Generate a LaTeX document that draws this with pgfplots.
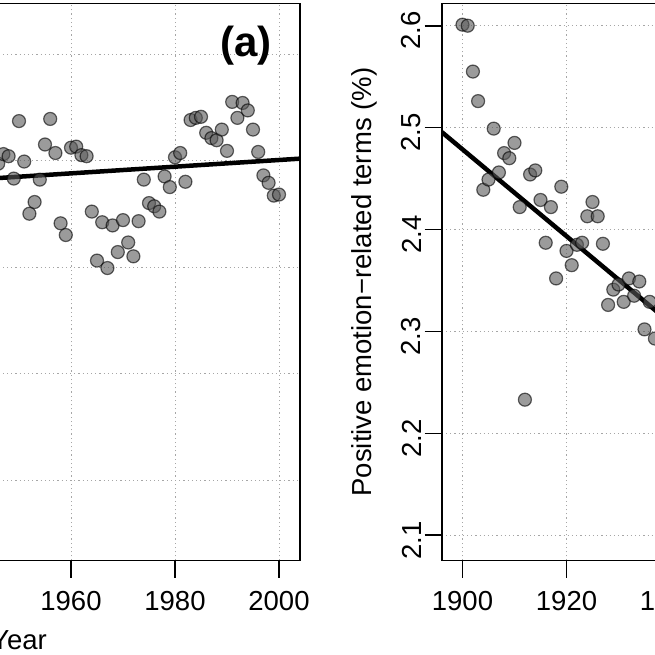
\documentclass[border=0pt]{standalone}
\usepackage{pgfplots}
\pgfplotsset{compat=1.18}
\usepackage{fontspec}
\setmainfont{Liberation Sans}

\pgfplotstableread{
year val
1946 2.497
1947 2.506
1948 2.504
1949 2.483
1950 2.537
1951 2.499
1952 2.450
1953 2.461
1954 2.482
1955 2.515
1956 2.539
1957 2.507
1958 2.441
1959 2.430
1960 2.512
1961 2.513
1962 2.505
1963 2.504
1964 2.452
1965 2.406
1966 2.442
1967 2.399
1968 2.439
1969 2.414
1970 2.444
1971 2.423
1972 2.410
1973 2.443
1974 2.482
1975 2.460
1976 2.457
1977 2.452
1978 2.485
1979 2.475
1980 2.503
1981 2.507
1982 2.480
1983 2.538
1984 2.540
1985 2.541
1986 2.526
1987 2.521
1988 2.519
1989 2.529
1990 2.509
1991 2.555
1992 2.540
1993 2.554
1994 2.547
1995 2.529
1996 2.508
1997 2.486
1998 2.479
1999 2.467
2000 2.468
}\dataA

\pgfplotstableread{
year val
1900 2.601
1901 2.600
1902 2.555
1903 2.526
1904 2.439
1905 2.449
1906 2.499
1907 2.456
1908 2.475
1909 2.470
1910 2.485
1911 2.422
1912 2.233
1913 2.454
1914 2.458
1915 2.429
1916 2.387
1917 2.422
1918 2.352
1919 2.442
1920 2.379
1921 2.365
1922 2.385
1923 2.387
1924 2.413
1925 2.427
1926 2.413
1927 2.386
1928 2.326
1929 2.341
1930 2.346
1931 2.329
1932 2.352
1933 2.335
1934 2.349
1935 2.302
1936 2.329
1937 2.293
}\dataB

\pgfplotsset{
  panel/.style={
    scale only axis, width=561.6pt, height=557.2pt,
    xmin=1896, xmax=2004,
    xtick={1900,1920,1940,1960,1980,2000},
    grid=major,
    major grid style={black!35, line width=0.9pt, dash pattern=on 1.2pt off 3pt},
    axis line style={line width=1.6pt},
    tick style={black, line width=1.6pt},
    major tick length=17pt,
    tick align=outside,
    tick pos=left,
    /pgf/number format/1000 sep={},
    /pgf/number format/assume math mode=true,
    tick label style={font=\fontsize{27.5}{32}\selectfont},
    xticklabel style={yshift=-10pt},
    yticklabel style={rotate=90, anchor=south, xshift=-5pt,
      /pgf/number format/fixed, /pgf/number format/fixed zerofill,
      /pgf/number format/precision=1},
    label style={font=\fontsize{27.5}{32}\selectfont},
    xlabel={Year},
    xlabel style={at={(axis description cs:0.5,-0.1597)}, anchor=base},
  },
  pts/.style={only marks, mark=*, mark size=6.5pt,
    mark options={draw=black, fill=black!65, opacity=0.6, line width=1.2pt}},
  fit/.style={no marks, black, line width=4.5pt},
}

\begin{document}
\begin{tikzpicture}[x=1pt,y=1pt]
\begin{scope}
\clip (0,0) rectangle (655,655);
\begin{axis}[panel, at={(-261.8pt,94.3pt)}, anchor=south west,
  ymin=2.1242, ymax=2.6474, ytick={2.2,2.3,2.4,2.5,2.6}]
\addplot[pts] table[x=year, y=val] {\dataA};
\addplot[fit] coordinates {(1896,2.4678) (2004,2.5017)};
\node[font=\bfseries\fontsize{42}{46}\selectfont] at (axis description cs:0.904,0.9237) {(a)};
\end{axis}
\begin{axis}[panel, at={(441.7pt,94.3pt)}, anchor=south west,
  ymin=2.075, ymax=2.6218, ytick={2.1,2.2,2.3,2.4,2.5,2.6},
  ylabel={Positive emotion−related terms (\%)},
  ylabel style={at={(axis description cs:-0.1246,0.5)}, anchor=base}]
\addplot[pts] table[x=year, y=val] {\dataB};
\addplot[fit] coordinates {(1896,2.4957) (2004,2.0356)};
\node[font=\bfseries\fontsize{42}{46}\selectfont] at (axis description cs:0.904,0.9237) {(b)};
\end{axis}
\end{scope}
\pgfresetboundingbox
\useasboundingbox (0,0) rectangle (655,655);
\end{tikzpicture}
\end{document}
